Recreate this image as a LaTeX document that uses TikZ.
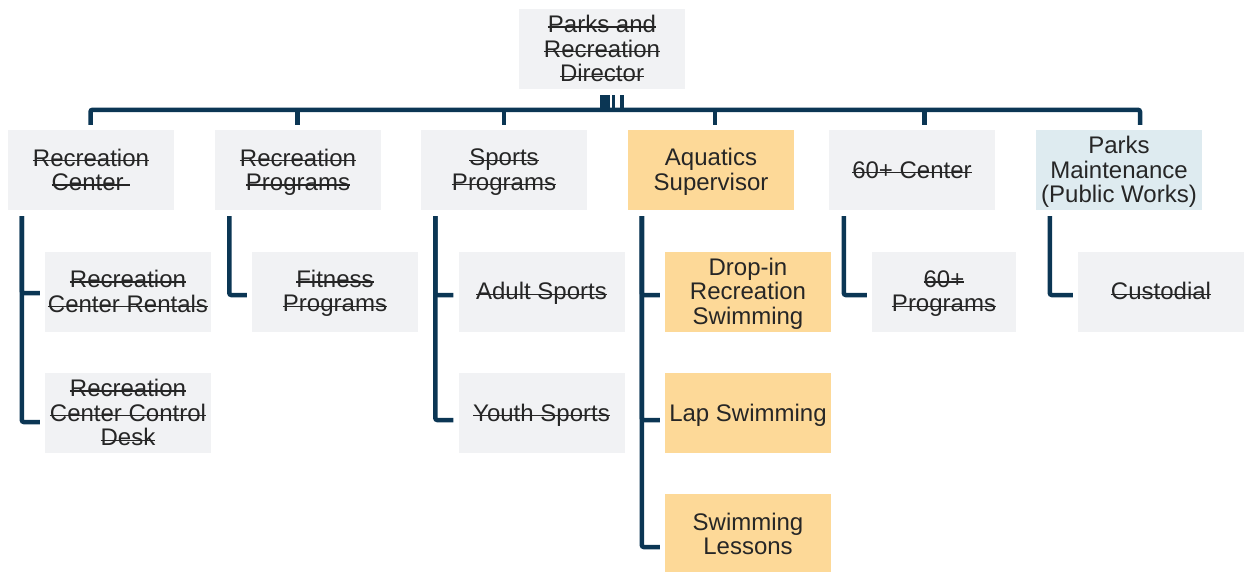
\documentclass[tikz,border=0pt]{standalone}
\usepackage{fontspec}
\setmainfont{Liberation Sans}
\usetikzlibrary{calc}
\definecolor{grayfill}{HTML}{F1F2F4}
\definecolor{orangefill}{HTML}{FDD998}
\definecolor{bluefill}{HTML}{DEEBF0}
\definecolor{navy}{HTML}{0B3654}
\definecolor{txt}{HTML}{262626}
\newsavebox{\strikebox}
\newcommand{\so}[1]{\sbox{\strikebox}{#1}\rlap{\raisebox{0.2em}{\rule{\wd\strikebox}{1.3pt}}}\usebox{\strikebox}}
\newcommand{\bx}[1]{\raisebox{-3.2pt}[\height][\depth]{\begin{tabular}{@{}c@{}}#1\end{tabular}}}
\begin{document}
\begin{tikzpicture}[x=1pt,y=-1pt,
  box/.style={minimum width=166pt, minimum height=80pt, inner sep=0pt, align=center,
    text=txt, font=\fontsize{24}{24.4}\selectfont},
  graybox/.style={box, fill=grayfill},
  orangebox/.style={box, fill=orangefill},
  bluebox/.style={box, fill=bluefill},
  conn/.style={draw=navy, line width=4.5pt, rounded corners=2pt},
  bar/.style={draw=navy}]
\useasboundingbox (0,0) rectangle (1245,571);

% top
\node[graybox] (dir) at (602,49) {\bx{\so{Parks and}\\\so{Recreation}\\\so{Director}}};

% level 1
\node[graybox] (rc) at (91,170) {\bx{\so{Recreation}\\\so{Center\ }}};
\node[graybox] (rp) at (298,170) {\bx{\so{Recreation}\\\so{Programs}}};
\node[graybox] (sp) at (504,170) {\bx{\so{Sports}\\\so{Programs}}};
\node[orangebox] (aq) at (711,170) {\bx{Aquatics\\Supervisor}};
\node[graybox] (sc) at (912,170) {\bx{\so{60+ Center}}};
\node[bluebox] (pm) at (1119,170) {\bx{Parks\\Maintenance\\(Public Works)}};

% level 2
\node[graybox] (rcr) at (128,291.5) {\bx{\so{Recreation}\\\so{Center Rentals}}};
\node[graybox] (rcd) at (128,413) {\bx{\so{Recreation}\\\so{Center Control}\\\so{Desk}}};
\node[graybox] (fit) at (335,291.5) {\bx{\so{Fitness}\\\so{Programs}}};
\node[graybox] (ads) at (541.5,291.5) {\bx{\so{Adult Sports}}};
\node[graybox] (ys) at (541.5,413) {\bx{\so{Youth Sports}}};
\node[orangebox] (dis) at (748,291.5) {\bx{Drop-in\\Recreation\\Swimming}};
\node[orangebox] (lap) at (748,413) {\bx{Lap Swimming}};
\node[orangebox] (les) at (748,534) {\bx{Swimming\\Lessons}};
\node[graybox, minimum width=144pt] (p60) at (944,291.5) {\bx{\so{60+}\\\so{Programs}}};
\node[graybox] (cus) at (1161,291.5) {\bx{\so{Custodial}}};

% director to bus
\draw[bar, line width=10pt] ([shift={(3,6)}]dir.south) -- ++(0,15);
\draw[bar, line width=3pt] ([shift={(11.5,6)}]dir.south) -- ++(0,15);
\draw[bar, line width=4pt] ([shift={(20,6)}]dir.south) -- ++(0,15);

% bus
\draw[conn] ([shift={(-0.5,-5)}]rc.north) -- ++(0,-15) -| ([shift={(21,-5)}]pm.north);
\draw[conn] ([shift={(-0.5,-5)}]rp.north) -- ++(0,-15);
\draw[conn] ([shift={(0,-5)}]sp.north) -- ++(0,-15);
\draw[conn] ([shift={(4,-5)}]aq.north) -- ++(0,-15);
\draw[conn] ([shift={(12.5,-5)}]sc.north) -- ++(0,-15);

% children
\draw[conn] ([shift={(14,6)}]rc.south west) |- ([shift={(-5,1.5)}]rcr.west);
\draw[conn] ([shift={(14,6)}]rc.south west) |- ([shift={(-5,9)}]rcd.west);
\draw[conn] ([shift={(14.5,6)}]rp.south west) |- ([shift={(-5,3.5)}]fit.west);
\draw[conn] ([shift={(14.5,6)}]sp.south west) |- ([shift={(-5,3.5)}]ads.west);
\draw[conn] ([shift={(14.5,6)}]sp.south west) |- ([shift={(-5,7)}]ys.west);
\draw[conn] ([shift={(14,6)}]aq.south west) |- ([shift={(-5,3.5)}]dis.west);
\draw[conn] ([shift={(14,6)}]aq.south west) |- ([shift={(-5,7)}]lap.west);
\draw[conn] ([shift={(14,6)}]aq.south west) |- ([shift={(-5,13)}]les.west);
\draw[conn] ([shift={(15,6)}]sc.south west) |- ([shift={(-5,3.5)}]p60.west);
\draw[conn] ([shift={(14,6)}]pm.south west) |- ([shift={(-5,3.5)}]cus.west);
\end{tikzpicture}
\end{document}
